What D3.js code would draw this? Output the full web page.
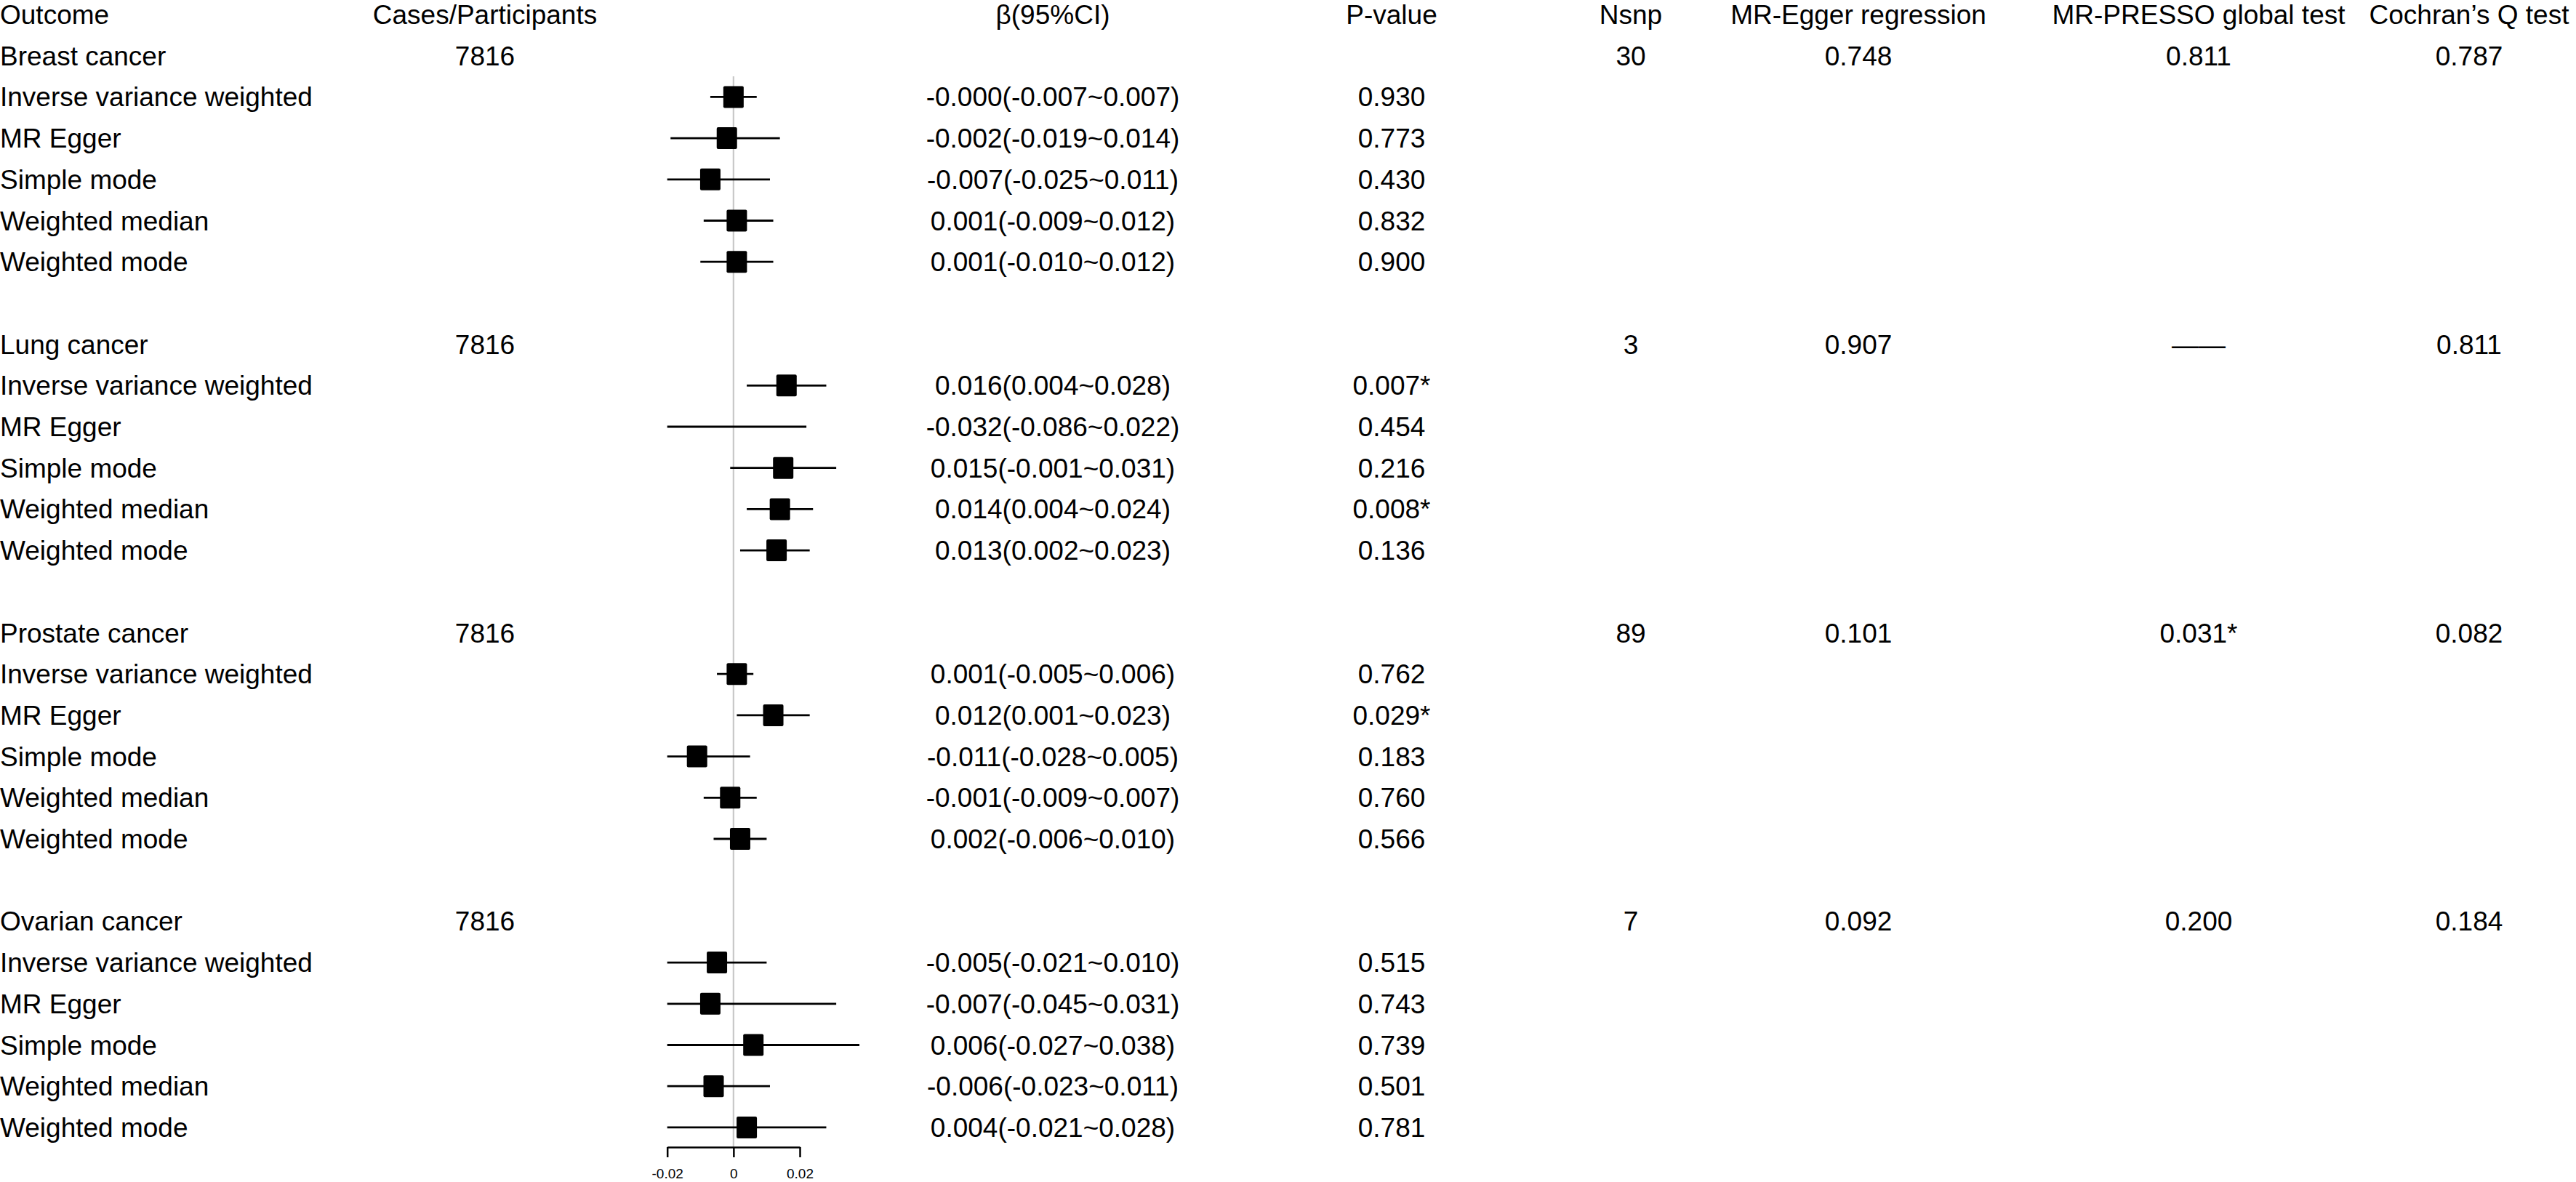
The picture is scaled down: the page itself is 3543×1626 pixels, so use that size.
<!DOCTYPE html>
<html>
<head>
<meta charset="utf-8">
<script src="https://cdn.jsdelivr.net/npm/d3@7"></script>
<style>
body{margin:0;background:#fff;}
text{font-family:"Liberation Sans",Arial,sans-serif;fill:#000;}
</style>
</head>
<body>
<div id="chart"></div>
<script>
// outcome level values
var outcomes = ["Breast cancer","Lung cancer","Prostate cancer","Ovarian cancer"];
var cases = ["7816","7816","7816","7816"];
var nsnp = [30,3,89,7];
var eggerP = [0.748,0.907,0.101,0.092];
var pressoP = [0.811,null,0.031,0.200];
var cochranQ = [0.787,0.811,0.082,0.184];

// method level values (one row per outcome)
var methods = ["Inverse variance weighted","MR Egger","Simple mode","Weighted median","Weighted mode"];
var beta = [
  [-0.000,-0.002,-0.007,0.001,0.001],
  [0.016,-0.032,0.015,0.014,0.013],
  [0.001,0.012,-0.011,-0.001,0.002],
  [-0.005,-0.007,0.006,-0.006,0.004]
];
var lower = [
  [-0.007,-0.019,-0.025,-0.009,-0.010],
  [0.004,-0.086,-0.001,0.004,0.002],
  [-0.005,0.001,-0.028,-0.009,-0.006],
  [-0.021,-0.045,-0.027,-0.023,-0.021]
];
var upper = [
  [0.007,0.014,0.011,0.012,0.012],
  [0.028,0.022,0.031,0.024,0.023],
  [0.006,0.023,0.005,0.007,0.010],
  [0.010,0.031,0.038,0.011,0.028]
];
var pvals = [
  [0.930,0.773,0.430,0.832,0.900],
  [0.007,0.454,0.216,0.008,0.136],
  [0.762,0.029,0.183,0.760,0.566],
  [0.515,0.743,0.739,0.501,0.781]
];
var headers = ["Outcome","Cases/Participants","β(95%CI)","P-value","Nsnp","MR-Egger regression","MR-PRESSO global test","Cochran’s Q test"];
var ticks = [-0.02,0,0.02];
var tickLabels = ["-0.02","0","0.02"];

var w = 3543, h = 1626;
var fs = 37;

var svg = d3.select("#chart").append("svg")
    .attr("width", w).attr("height", h);

var fmt3 = function(v){
  var neg = v < 0 || Object.is(v, -0);
  return (neg ? "-" : "") + Math.abs(v).toFixed(3);
};
var fmtP = function(v){
  if (v === null) return "——";
  return v.toFixed(3) + (v < 0.05 ? "*" : "");
};

// build rows
var rows = [];
outcomes.forEach(function(o, k){
  rows.push({type:"outcome", k:k});
  methods.forEach(function(m, j){
    rows.push({type:"method", k:k, j:j});
  });
  if (k < outcomes.length - 1) rows.push({type:"blank"});
});

var y = d3.scaleLinear().domain([0, rows.length]).range([20, 20 + 56.7 * rows.length]);
var x = d3.scaleLinear().domain([-0.02, 0.02]).range([917.7, 1100]);

var colX = [0, 667, 1448, 1914, 2243, 2556, 3024, 3396];
var colAnchor = ["start","middle","middle","middle","middle","middle","middle","middle"];

function cellTexts(r){
  if (r.type === "outcome") {
    var k = r.k;
    return [outcomes[k], cases[k], "", "", String(nsnp[k]), eggerP[k].toFixed(3), fmtP(pressoP[k]), cochranQ[k].toFixed(3)];
  }
  if (r.type === "method") {
    var b = beta[r.k][r.j], lo = lower[r.k][r.j], up = upper[r.k][r.j];
    return [methods[r.j], "", fmt3(b) + "(" + fmt3(lo) + "~" + fmt3(up) + ")", fmtP(pvals[r.k][r.j]), "", "", "", ""];
  }
  return ["","","","","","","",""];
}

// header
svg.append("g").selectAll("text")
  .data(headers)
  .enter().append("text")
  .attr("x", function(d,i){ return colX[i]; })
  .attr("y", y(0) + 13)
  .attr("text-anchor", function(d,i){ return colAnchor[i]; })
  .attr("font-size", fs)
  .text(function(d){ return d; });

// table body
var rowG = svg.append("g").selectAll("g.row")
  .data(rows)
  .enter().append("g")
  .attr("class","row")
  .attr("transform", function(d,i){ return "translate(0," + (y(i + 1) + 13) + ")"; });

rowG.selectAll("text")
  .data(function(d){ return cellTexts(d); })
  .enter().append("text")
  .attr("x", function(d,i){ return colX[i]; })
  .attr("text-anchor", function(d,i){ return colAnchor[i]; })
  .attr("font-size", fs)
  .text(function(d){ return d; });

// reference line at zero
var rowH = 56.7;
svg.append("line")
  .attr("x1", x(0)).attr("x2", x(0))
  .attr("y1", y(2) - rowH / 2)
  .attr("y2", 1578)
  .attr("stroke", "#c8c8c8")
  .attr("stroke-width", 2.2);

// estimates
var est = rows.map(function(r, i){ return {r:r, i:i+1}; })
  .filter(function(d){ return d.r.type === "method"; });

var forest = svg.append("g");
forest.selectAll("line.ci")
  .data(est)
  .enter().append("line")
  .attr("class","ci")
  .attr("x1", function(d){ return x(Math.max(lower[d.r.k][d.r.j], -0.02)); })
  .attr("x2", function(d){ return x(upper[d.r.k][d.r.j]); })
  .attr("y1", function(d){ return y(d.i); })
  .attr("y2", function(d){ return y(d.i); })
  .attr("stroke", "#000")
  .attr("stroke-width", 2.8);

var sqW = 28, sqH = 30;
forest.selectAll("rect.pt")
  .data(est.filter(function(d){ return beta[d.r.k][d.r.j] >= -0.02; }))
  .enter().append("rect")
  .attr("class","pt")
  .attr("x", function(d){ return x(beta[d.r.k][d.r.j]) - sqW / 2; })
  .attr("y", function(d){ return y(d.i) - sqH / 2; })
  .attr("width", sqW).attr("height", sqH)
  .attr("rx", 2)
  .attr("fill", "#000");

// x axis
var axis = d3.axisBottom(x)
  .tickValues(ticks)
  .tickFormat(function(d,i){ return tickLabels[i]; })
  .tickSize(14)
  .tickSizeOuter(0)
  .tickPadding(16);

var ax = svg.append("g")
  .attr("transform", "translate(0,1578)")
  .call(axis);
ax.select(".domain").attr("stroke-width", 2.5);
ax.selectAll(".tick line").attr("stroke-width", 2.5);
ax.selectAll(".tick text")
  .attr("font-size", 19)
  .attr("font-family", "Liberation Sans, Arial, sans-serif");
</script>
</body>
</html>
